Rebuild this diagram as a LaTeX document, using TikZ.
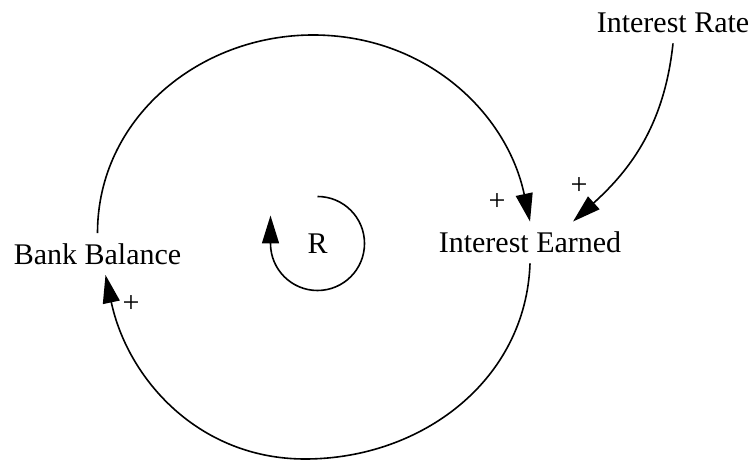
\documentclass[tikz,border=0pt]{standalone}
\usepackage{fontspec}
\setmainfont{Liberation Serif}
\usetikzlibrary{arrows.meta}

\begin{document}
\begin{tikzpicture}[x=0.5pt, y=0.5pt,
    var/.style={font=\fontsize{15}{18}\selectfont, inner sep=5pt},
    link/.style={line width=0.8pt, -{Triangle[length=14pt, width=8.5pt]}},
    sign/.style={font=\fontsize{15}{18}\selectfont, inner sep=1pt}]
    \useasboundingbox (0,0) rectangle (753,460);
    \node[var] (bank) at (97.5,206) {Bank Balance};
    \node[var] (earned) at (530,217.5) {Interest Earned};
    \node[var] (rate) at (673,437) {Interest Rate};
    \node[var] (loop) at (317.5,216.5) {R};
    \coordinate (top) at (313,425);
    \coordinate (bottom) at (305,1);
    % causal links
    \draw[link] (bank.north) to[out=90, in=180] (top) to[out=0, in=102] (earned.north);
    \draw[link] (earned.south) to[out=268, in=0] (bottom) to[out=180, in=282] ([xshift=4pt]bank.south);
    \draw[link] (rate.south) to[out=264, in=42] ([xshift=21.5pt]earned.north);
    % polarities
    \node[sign] (s1) at (497,258) {+};
    \node[sign] (s2) at (579,274) {+};
    \node[sign] (s3) at (131,156) {+};
    % loop marker
    \draw[link] ([yshift=23.5pt]loop.center) arc[start angle=90, end angle=-180, radius=23.5pt] -- ++(0,28);
\end{tikzpicture}
\end{document}
